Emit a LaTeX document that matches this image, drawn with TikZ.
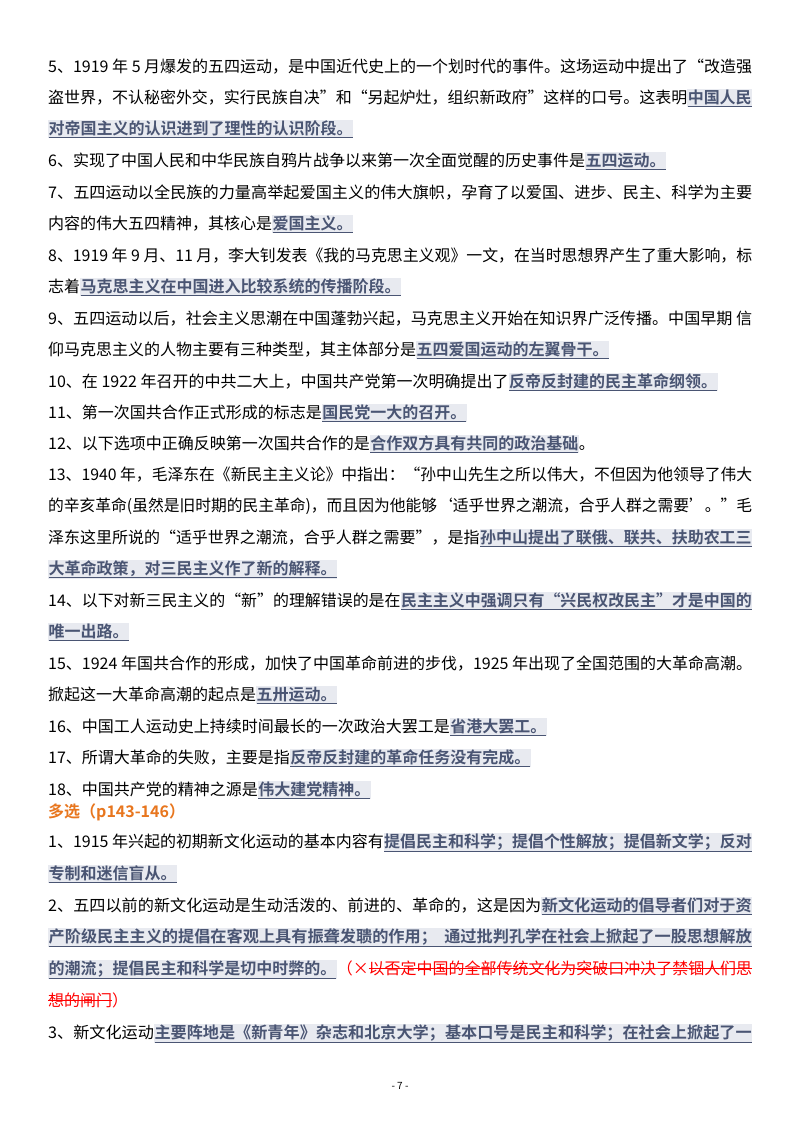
\documentclass[tikz,border=0pt]{standalone}
\usepackage{fontspec}
\setmainfont{Noto Sans CJK SC}[BoldFont={Noto Sans CJK SC Bold}]
\definecolor{hlbg}{HTML}{E8EAF0}
\definecolor{hltx}{HTML}{4A5573}
\definecolor{orng}{HTML}{E8761E}
\newcommand{\hl}[1]{{\setlength{\fboxsep}{0.5pt}\colorbox{hlbg}{\color{hltx}\bfseries\underline{#1}}}}
\newcommand{\rd}[1]{{\color{red}#1}}
\newcommand{\mystrike}[1]{\setbox0\hbox{#1}\rlap{\rule[0.32em]{\wd0}{0.8pt}}\box0}
\newcommand{\full}[1]{\resizebox{704pt}{\height}{#1}}
\tikzset{ln/.style={anchor=base west,inner sep=0pt,font=\fontsize{16pt}{18pt}\selectfont}}
\begin{document}
\begin{tikzpicture}[x=1pt,y=-1pt]
\useasboundingbox[fill=white] (0,0) rectangle (800,1132);
\def\L#1#2{\node[ln] at (48,#1+6) {#2};}
\L{67}{\full{5、1919 年 5 月爆发的五四运动，是中国近代史上的一个划时代的事件。这场运动中提出了“改造强}}
\L{97}{\full{盗世界，不认秘密外交，实行民族自决”和“另起炉灶，组织新政府”这样的口号。这表明\hl{中国人民}}}
\L{128}{\hl{对帝国主义的认识进到了理性的认识阶段。}}
\L{160}{6、实现了中国人民和中华民族自鸦片战争以来第一次全面觉醒的历史事件是\hl{五四运动。}}
\L{192}{\full{7、五四运动以全民族的力量高举起爱国主义的伟大旗帜，孕育了以爱国、进步、民主、科学为主要}}
\L{223}{内容的伟大五四精神，其核心是\hl{爱国主义。}}
\L{255}{\full{8、1919 年 9 月、11 月，李大钊发表《我的马克思主义观》一文，在当时思想界产生了重大影响，标}}
\L{286}{志着\hl{马克思主义在中国进入比较系统的传播阶段。}}
\L{318}{\full{9、五四运动以后，社会主义思潮在中国蓬勃兴起，马克思主义开始在知识界广泛传播。中国早期 信}}
\L{349}{仰马克思主义的人物主要有三种类型，其主体部分是\hl{五四爱国运动的左翼骨干。}}
\L{381}{10、在 1922 年召开的中共二大上，中国共产党第一次明确提出了\hl{反帝反封建的民主革命纲领。}}
\L{412}{11、第一次国共合作正式形成的标志是\hl{国民党一大的召开。}}
\L{443}{12、以下选项中正确反映第一次国共合作的是\hl{合作双方具有共同的政治基础}。}
\L{474}{\full{13、1940 年，毛泽东在《新民主主义论》中指出：“孙中山先生之所以伟大，不但因为他领导了伟大}}
\L{505}{\full{的辛亥革命(虽然是旧时期的民主革命)，而且因为他能够‘适乎世界之潮流，合乎人群之需要’。”毛}}
\L{537}{\full{泽东这里所说的“适乎世界之潮流，合乎人群之需要”，是指\hl{孙中山提出了联俄、联共、扶助农工三}}}
\L{568}{\hl{大革命政策，对三民主义作了新的解释。}}
\L{600}{\full{14、以下对新三民主义的“新”的理解错误的是在\hl{民主主义中强调只有“兴民权改民主”才是中国的}}}
\L{631}{\hl{唯一出路。}}
\L{663}{\full{15、1924 年国共合作的形成，加快了中国革命前进的步伐，1925 年出现了全国范围的大革命高潮。}}
\L{694}{掀起这一大革命高潮的起点是\hl{五卅运动。}}
\L{726}{16、中国工人运动史上持续时间最长的一次政治大罢工是\hl{省港大罢工。}}
\L{757}{17、所谓大革命的失败，主要是指\hl{反帝反封建的革命任务没有完成。}}
\L{789}{18、中国共产党的精神之源是\hl{伟大建党精神。}}
\L{811}{{\color{orng}\bfseries 多选（p143-146）}}
\L{841}{\full{1、1915 年兴起的初期新文化运动的基本内容有\hl{提倡民主和科学；提倡个性解放；提倡新文学；反对}}}
\L{873}{\hl{专制和迷信盲从。}}
\L{905}{\full{2、五四以前的新文化运动是生动活泼的、前进的、革命的，这是因为\hl{新文化运动的倡导者们对于资}}}
\L{936}{\full{\hl{产阶级民主主义的提倡在客观上具有振聋发聩的作用；\ \ 通过批判孔学在社会上掀起了一股思想解放}}}
\L{968}{\full{\hl{的潮流；提倡民主和科学是切中时弊的。}\rd{（×\mystrike{以否定中国的全部传统文化为突破口冲决了禁锢人们思}}}}
\L{1000}{\rd{\mystrike{想的闸门}）}}
\L{1032}{\full{3、新文化运动\hl{主要阵地是《新青年》杂志和北京大学；基本口号是民主和科学；在社会上掀起了一}}}
\node[font=\fontsize{10pt}{12pt}\selectfont] (pg) at (400,1086) {- 7 -};
\end{tikzpicture}
\end{document}
